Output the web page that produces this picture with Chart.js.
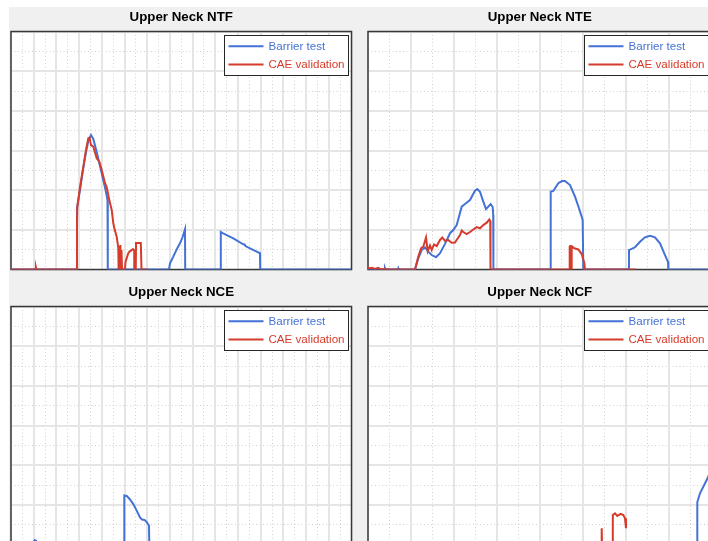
<!DOCTYPE html>
<html>
<head>
<meta charset="utf-8">
<script src="https://cdn.jsdelivr.net/npm/chart.js@4.4.1/dist/chart.umd.min.js"></script>
<style>
  html, body { margin: 0; padding: 0; background: #ffffff; width: 708px; height: 541px; overflow: hidden; position: relative; }
  #fig { position: absolute; left: 9px; top: 7px; right: 0; bottom: 0; background: #f0f0f0; }
  canvas { position: absolute; }
</style>
</head>
<body>
<div id="fig"></div>
<canvas id="p0" width="360" height="275" style="left:0px;top:0px"></canvas>
<canvas id="p1" width="360" height="275" style="left:355px;top:0px"></canvas>
<canvas id="p2" width="360" height="275" style="left:0px;top:275px"></canvas>
<canvas id="p3" width="360" height="275" style="left:355px;top:275px"></canvas>
<script>
// Panel titles and legend entries
const panelTitles = ['Upper Neck NTF', 'Upper Neck NTE', 'Upper Neck NCE', 'Upper Neck NCF'];
const seriesLabels = ['Barrier test', 'CAE validation'];
const seriesColors = ['#4472d6', '#d63c2c'];

// Time axis (ms) range and major step per panel; Nij axis range and step
const timeMax = [150, 160, 150, 160];
const timeStep = [10, 20, 10, 20];
const nijMax = 1.2;
const nijStep = 0.2;

// [time ms, Nij] samples
const ntfBarrier = [[0,0],[28.85,0],[29.07,0.310],[30.40,0.401],[31.72,0.502],[33.04,0.592],[34.14,0.653],[35.24,0.678],[36.26,0.658],[37.75,0.592],[39.21,0.522],[40.66,0.451],[41.85,0.391],[42.51,0.350],[42.64,0],[69.60,0],[70.04,0.031],[71.50,0.065],[73.00,0.102],[74.45,0.132],[75.64,0.165],[76.65,0.203],[76.74,0],[92.29,0],[92.42,0.189],[93.26,0.183],[97.93,0.157],[102.33,0.127],[102.9,0.126],[103.3,0.118],[105.29,0.107],[108.24,0.090],[109.69,0.082],[109.78,0],[150,0]];
const ntfCae = [[0,0],[10.8,0],[11.0,0.010],[11.2,0],[28.94,0],[29.07,0.234],[29.21,0.315],[30.40,0.416],[31.85,0.517],[33.04,0.603],[34.05,0.662],[34.6,0.665],[35.24,0.627],[36.26,0.619],[37.75,0.561],[38.90,0.544],[39.96,0.502],[41.41,0.435],[42.16,0.416],[43.30,0.350],[44.36,0.300],[45.07,0.233],[45.51,0.209],[46.56,0.165],[47.27,0.108],[47.40,0],[47.67,0.118],[47.93,0],[48.2,0.124],[48.46,0],[48.68,0.098],[48.9,0],[50.22,0],[50.44,0.038],[51.67,0.082],[52.42,0.093],[53.17,0.098],[53.74,0.103],[54.27,0.096],[54.31,0],[54.97,0],[55.07,0.134],[57.18,0.134],[57.49,0],[59.78,0]];

const nteBarrier = [[0,0],[7.7,0],[7.9,0.006],[8.1,0],[13.9,0],[14.1,0.006],[14.3,0],[21.89,0],[23.43,0.056],[25.01,0.098],[26.55,0.111],[28.09,0.090],[29.67,0.073],[31.67,0.062],[33.54,0.082],[35.87,0.129],[38.19,0.183],[39.73,0.199],[41.32,0.224],[43.65,0.317],[45.18,0.330],[47.51,0.350],[49.84,0.397],[50.91,0.406],[52.17,0.392],[53.71,0.342],[54.96,0.304],[56.04,0.317],[57.15,0.330],[58.08,0.315],[58.32,0.275],[58.41,0],[85.0,0],[85.10,0.392],[86.31,0.396],[88.64,0.435],[90.36,0.446],[91.76,0.446],[94.09,0.426],[96.42,0.367],[98.28,0.309],[100.0,0.250],[100.28,0],[121.48,0],[121.57,0.098],[124.36,0.112],[126.69,0.140],[129.02,0.162],[131.35,0.170],[133.68,0.162],[136.01,0.132],[138.34,0.073],[139.74,0.038],[139.88,0],[160,0]];
const nteCae = [[0,0.010],[0.93,0.005],[1.86,0.009],[3.26,0.003],[4.66,0.008],[6.06,0],[7.92,0.004],[9.32,0],[21.89,0],[23.43,0.065],[24.69,0.107],[25.76,0.115],[27.02,0.162],[27.81,0.093],[28.88,0.121],[29.67,0.098],[30.74,0.126],[32.0,0.118],[33.54,0.149],[34.61,0.161],[35.87,0.144],[37.26,0.149],[38.99,0.135],[40.52,0.136],[41.92,0.159],[42.85,0.174],[43.65,0.197],[44.39,0.189],[45.97,0.179],[47.51,0.189],[49.05,0.202],[50.63,0.214],[52.17,0.208],[53.71,0.224],[55.29,0.236],[56.50,0.252],[56.92,0.245],[57.06,0],[93.76,0],[93.86,0.118],[94.04,0],[94.23,0.124],[94.41,0],[94.60,0.121],[94.79,0],[94.97,0.118],[95.95,0.108],[97.96,0.101],[99.54,0.078],[100.75,0.033],[101.08,0],[125,0]];

const nceBarrier = [[0,0],[9.91,0],[10.26,0.018],[10.57,0.021],[11.01,0.019],[11.19,0],[49.87,0],[49.91,0.247],[50.97,0.245],[52.42,0.227],[53.88,0.204],[55.37,0.171],[56.83,0.136],[57.71,0.126],[58.81,0.124],[59.78,0.113],[60.79,0.096],[60.93,0],[150,0]];
const nceCae = [[0,0],[60,0]];

const ncfBarrier = [[0,0],[153.25,0],[153.39,0.214],[154.64,0.258],[156.18,0.291],[157.76,0.325],[160,0.381]];
const ncfCae = [[0,0],[108.76,0],[108.86,0.082],[109.0,0],[113.93,0],[114.03,0.149],[115.05,0.157],[116.12,0.144],[117.71,0.154],[118.92,0.149],[119.71,0.132],[120.17,0.082]];

const panelSeries = [
  [ntfBarrier, ntfCae],
  [nteBarrier, nteCae],
  [nceBarrier, nceCae],
  [ncfBarrier, ncfCae]
];

// canvas padding so the axes boxes land in a 2x2 layout
const panelPadding = [
  { left: 11, right: 8.5, top: 0, bottom: 5.5 },
  { left: 13, right: 3.5, top: 0, bottom: 5.5 },
  { left: 11, right: 8.5, top: 0, bottom: 5.5 },
  { left: 13, right: 3.5, top: 0, bottom: 5.5 }
];

const FONT = '"Liberation Sans", Arial, Helvetica, sans-serif';

// white axes background, dark axes box, boxed legend in the upper right
const axesBox = {
  id: 'axesBox',
  beforeDraw(chart) {
    const a = chart.chartArea, c = chart.ctx;
    c.save();
    c.fillStyle = '#ffffff';
    c.fillRect(a.left, a.top, a.right - a.left, a.bottom - a.top);
    c.restore();
  },
  beforeDatasetsDraw(chart) {
    const a = chart.chartArea, c = chart.ctx;
    c.save();
    c.strokeStyle = '#383838';
    c.lineWidth = 1.5;
    c.strokeRect(a.left, a.top, a.right - a.left, a.bottom - a.top);
    c.restore();
  },
  afterDatasetsDraw(chart) {
    const a = chart.chartArea, c = chart.ctx;
    const bx = Math.round(a.right - 127.5) + 0.5;
    const by = Math.round(a.top + 3.5) + 0.5;
    const bw = 124, bh = 40;
    c.save();
    c.fillStyle = '#ffffff';
    c.fillRect(bx, by, bw, bh);
    c.strokeStyle = '#262626';
    c.lineWidth = 1;
    c.strokeRect(bx, by, bw, bh);
    c.font = '11.6px ' + FONT;
    c.textBaseline = 'middle';
    c.textAlign = 'left';
    const rows = [10.7, 29];
    chart.data.datasets.forEach((ds, i) => {
      const y = by + rows[i];
      c.strokeStyle = ds.borderColor;
      c.lineWidth = 2;
      c.beginPath();
      c.moveTo(bx + 4, y);
      c.lineTo(bx + 39, y);
      c.stroke();
      c.fillStyle = ds.borderColor;
      c.fillText(ds.label, bx + 44, y + 0.5);
    });
    c.restore();
  }
};

function buildPanel(idx) {
  const series = panelSeries[idx];
  const datasets = series.map((pts, i) => ({
    label: seriesLabels[i],
    data: pts.map(p => ({ x: p[0], y: p[1] })),
    borderColor: seriesColors[i],
    backgroundColor: seriesColors[i],
    borderWidth: 2,
    pointRadius: 0,
    tension: 0,
    fill: false,
    order: i === 0 ? 1 : 0
  }));
  const xmax = timeMax[idx], xstep = timeStep[idx];
  new Chart(document.getElementById('p' + idx), {
    type: 'line',
    data: { datasets },
    plugins: [axesBox],
    options: {
      responsive: false,
      animation: false,
      devicePixelRatio: 1,
      layout: { padding: panelPadding[idx] },
      plugins: {
        legend: { display: false },
        tooltip: { enabled: false },
        title: {
          display: true,
          text: panelTitles[idx],
          color: '#000000',
          font: { family: FONT, size: 13.3, weight: 'bold', lineHeight: 1.2 },
          padding: { top: 9, bottom: 6.54 }
        }
      },
      scales: {
        xMinor: {
          type: 'linear', position: 'bottom', min: 0, max: xmax, z: -1,
          ticks: { display: false, stepSize: xstep / 2 },
          grid: { color: '#d0d0d0', lineWidth: 1, drawTicks: false },
          border: { display: false, dash: [1, 2.5] }
        },
        yMinor: {
          type: 'linear', position: 'left', min: 0, max: nijMax, z: -1,
          ticks: { display: false, stepSize: nijStep / 2 },
          grid: { color: '#d0d0d0', lineWidth: 1, drawTicks: false },
          border: { display: false, dash: [1, 2.5] }
        },
        x: {
          type: 'linear', position: 'bottom', min: 0, max: xmax,
          ticks: { display: false, stepSize: xstep },
          grid: { color: '#e5e5e5', lineWidth: 2, drawTicks: false },
          border: { display: false }
        },
        y: {
          type: 'linear', position: 'left', min: 0, max: nijMax,
          ticks: { display: false, stepSize: nijStep },
          grid: { color: '#e5e5e5', lineWidth: 2, drawTicks: false },
          border: { display: false }
        }
      }
    }
  });
}

for (let i = 0; i < 4; i++) buildPanel(i);
</script>
</body>
</html>
